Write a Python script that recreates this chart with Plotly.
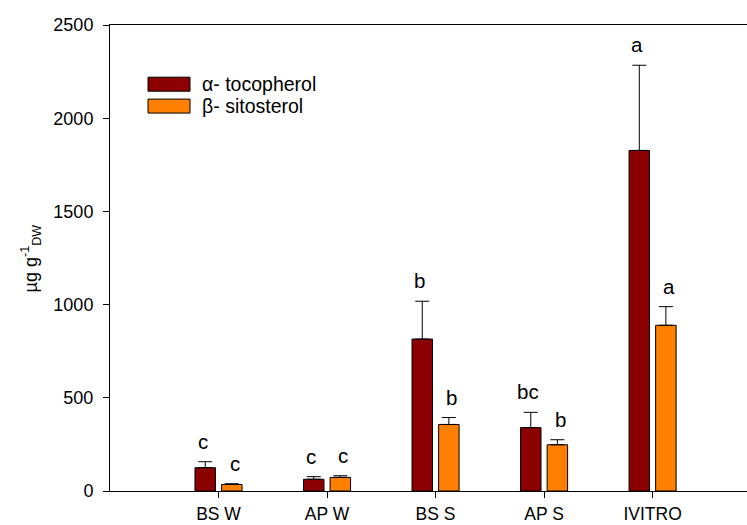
import plotly.graph_objects as go

# Sample groups and measured concentrations (µg g-1 DW)
categories = ["BS W", "AP W", "BS S", "AP S", "IVITRO"]
tocopherol = [125, 63, 815, 340, 1827]
tocopherol_err = [32, 14, 203, 82, 457]
sitosterol = [35, 73, 357, 248, 889]
sitosterol_err = [4, 9, 37, 27, 100]
tocopherol_letters = ["c", "c", "b", "bc", "a"]
sitosterol_letters = ["c", "c", "b", "b", "a"]

series_names = ["α- tocopherol", "β- sitosterol"]
colors = ["#8B0000", "#FF8000"]
FONT = "Liberation Sans, Arial, sans-serif"

fig = go.Figure()
for name, vals, errs, col in [
    (series_names[0], tocopherol, tocopherol_err, colors[0]),
    (series_names[1], sitosterol, sitosterol_err, colors[1]),
]:
    fig.add_trace(go.Bar(
        x=categories, y=vals, name=name,
        marker=dict(color=col, line=dict(color="black", width=1)),
        error_y=dict(type="data", array=errs, arrayminus=[0] * len(errs),
                     symmetric=False, color="black", thickness=1, width=7),
        showlegend=False,
    ))

# significance letters above each error bar
for i, cat in enumerate(categories):
    for vals, errs, letters, dx in [
        (tocopherol, tocopherol_err, tocopherol_letters, -16),
        (sitosterol, sitosterol_err, sitosterol_letters, 16),
    ]:
        fig.add_annotation(
            x=cat, y=vals[i] + errs[i], text=letters[i], showarrow=False,
            xshift=dx, yshift=7, yanchor="bottom",
            font=dict(family=FONT, size=20.5, color="black"),
        )

# legend drawn as swatches + labels inside the plot area
legend_rows = [(0.888, 0.858), (0.841, 0.811)]
for (y1, y0), name, col in zip(legend_rows, series_names, colors):
    fig.add_shape(type="rect", xref="paper", yref="paper",
                  x0=0.0597, x1=0.1256, y0=y0, y1=y1,
                  fillcolor=col, line=dict(color="black", width=1))
    fig.add_annotation(xref="paper", yref="paper", x=0.1413, y=(y0 + y1) / 2,
                       text=name, showarrow=False, xanchor="left", yanchor="middle",
                       font=dict(family=FONT, size=19.5, color="black"))

# y-axis title
fig.add_annotation(xref="paper", yref="paper", x=-0.125, y=0.5,
                   text="µg g<sup>-1</sup><sub>DW</sub>", showarrow=False,
                   textangle=-90, xanchor="center", yanchor="middle",
                   font=dict(family=FONT, size=18, color="black"))

fig.update_layout(
    width=747, height=525,
    margin=dict(l=110, r=0, t=25, b=34, autoexpand=False),
    paper_bgcolor="white", plot_bgcolor="white",
    barmode="group", bargap=0.51, bargroupgap=0.23,
    font=dict(family=FONT, size=18, color="black"),
    showlegend=False,
)
fig.update_xaxes(
    range=[-1, 4.87], showline=True, mirror=True, linecolor="black", linewidth=1,
    ticks="outside", ticklen=6, tickcolor="black", showgrid=False,
    tickfont=dict(family=FONT, size=17.5), ticklabelstandoff=1, automargin=False,
)
fig.update_yaxes(
    range=[0, 2500], tickvals=[0, 500, 1000, 1500, 2000, 2500],
    showline=True, mirror=False, linecolor="black", linewidth=1,
    ticks="outside", ticklen=6, tickcolor="black", showgrid=False, zeroline=False,
    tickfont=dict(family=FONT, size=18), ticklabelstandoff=6, automargin=False,
)

fig.write_html("out.html")
